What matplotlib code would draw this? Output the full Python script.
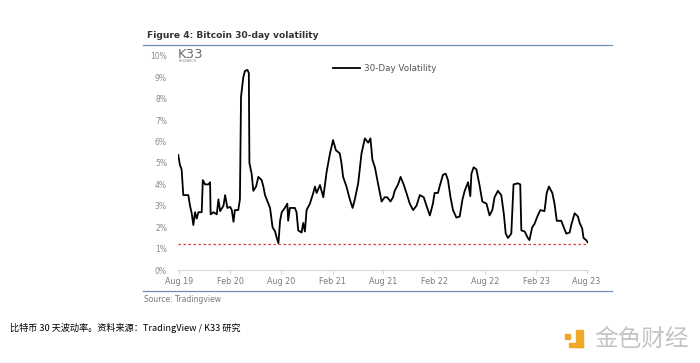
import matplotlib.pyplot as plt
import numpy as np
import pandas as pd
from matplotlib.patches import Rectangle

plt.rcParams['font.family'] = ['DejaVu Sans']

# data (30-day volatility, %)
dates = [
    "2019-07-29", "2019-08-04", "2019-08-10", "2019-08-16", "2019-09-03", "2019-09-09",
    "2019-09-15", "2019-09-21", "2019-09-27", "2019-10-03", "2019-10-09", "2019-10-21",
    "2019-10-25", "2019-11-02", "2019-11-14", "2019-11-20", "2019-11-22", "2019-12-02",
    "2019-12-14", "2019-12-20", "2019-12-26", "2020-01-07", "2020-01-13", "2020-01-21",
    "2020-01-31", "2020-02-06", "2020-02-12", "2020-02-17", "2020-02-29", "2020-03-06",
    "2020-03-10", "2020-03-18", "2020-03-24", "2020-04-02", "2020-04-07", "2020-04-09",
    "2020-04-17", "2020-04-23", "2020-05-03", "2020-05-11", "2020-05-23", "2020-05-29",
    "2020-06-04", "2020-06-10", "2020-06-22", "2020-07-01", "2020-07-10", "2020-07-16",
    "2020-07-22", "2020-07-28", "2020-08-03", "2020-08-14", "2020-08-23", "2020-08-26",
    "2020-09-01", "2020-09-19", "2020-09-25", "2020-10-01", "2020-10-13", "2020-10-19",
    "2020-10-25", "2020-10-31", "2020-11-12", "2020-11-24", "2020-11-30", "2020-12-06",
    "2020-12-18", "2020-12-30", "2021-01-11", "2021-01-23", "2021-02-03", "2021-02-13",
    "2021-02-27", "2021-03-05", "2021-03-11", "2021-03-23", "2021-04-04", "2021-04-14",
    "2021-04-22", "2021-05-04", "2021-05-16", "2021-05-28", "2021-06-09", "2021-06-17",
    "2021-06-24", "2021-07-03", "2021-07-14", "2021-07-27", "2021-08-07", "2021-08-16",
    "2021-08-28", "2021-09-06", "2021-09-12", "2021-09-24", "2021-10-03", "2021-10-14",
    "2021-10-24", "2021-11-05", "2021-11-17", "2021-11-29", "2021-12-11", "2021-12-25",
    "2022-01-04", "2022-01-16", "2022-01-27", "2022-02-02", "2022-02-14", "2022-02-20",
    "2022-03-04", "2022-03-14", "2022-03-22", "2022-03-31", "2022-04-09", "2022-04-21",
    "2022-05-03", "2022-05-13", "2022-05-21", "2022-06-02", "2022-06-10", "2022-06-14",
    "2022-06-22", "2022-07-02", "2022-07-14", "2022-07-23", "2022-08-07", "2022-08-18",
    "2022-08-28", "2022-09-05", "2022-09-17", "2022-09-29", "2022-10-08", "2022-10-15",
    "2022-10-23", "2022-11-04", "2022-11-12", "2022-11-28", "2022-12-06", "2022-12-10",
    "2022-12-22", "2023-01-02", "2023-01-08", "2023-01-18", "2023-01-26", "2023-02-07",
    "2023-02-16", "2023-03-03", "2023-03-11", "2023-03-19", "2023-03-31", "2023-04-08",
    "2023-04-16", "2023-05-02", "2023-05-08", "2023-05-20", "2023-06-01", "2023-06-07",
    "2023-06-19", "2023-07-01", "2023-07-07", "2023-07-16", "2023-07-21", "2023-07-30",
    "2023-08-05",
]
vol = [
    5.37, 4.9, 4.7, 3.5, 3.5, 3.0,
    2.66, 2.1, 2.7, 2.4, 2.7, 2.7,
    4.2, 4.0, 4.0, 4.1, 2.6, 2.7,
    2.6, 3.3, 2.75, 3.0, 3.5, 2.9,
    2.95, 2.8, 2.25, 2.8, 2.8, 3.3,
    8.1, 9.0, 9.3, 9.35, 9.2, 5.0,
    4.5, 3.7, 3.9, 4.35, 4.2, 3.9,
    3.5, 3.3, 2.9, 2.0, 1.8, 1.5,
    1.25, 2.3, 2.7, 2.9, 3.1, 2.3,
    2.9, 2.9, 2.7, 1.85, 1.75, 2.2,
    1.8, 2.8, 3.1, 3.6, 3.9, 3.6,
    3.97, 3.4, 4.6, 5.45, 6.07, 5.6,
    5.45, 5.0, 4.35, 3.9, 3.3, 2.9,
    3.3, 4.05, 5.45, 6.15, 5.95, 6.15,
    5.15, 4.8, 4.05, 3.2, 3.4, 3.4,
    3.2, 3.4, 3.7, 4.0, 4.35, 4.0,
    3.6, 3.1, 2.8, 3.0, 3.5, 3.4,
    3.0, 2.55, 3.1, 3.6, 3.6, 3.9,
    4.45, 4.5, 4.2, 3.4, 2.8, 2.45,
    2.5, 3.3, 3.7, 4.1, 3.45, 4.5,
    4.8, 4.7, 3.9, 3.2, 3.1, 2.55,
    2.8, 3.4, 3.7, 3.5, 2.65, 1.7,
    1.5, 1.7, 4.0, 4.05, 4.0, 1.85,
    1.8, 1.5, 1.4, 2.0, 2.15, 2.55,
    2.8, 2.75, 3.6, 3.9, 3.6, 3.1,
    2.3, 2.3, 2.1, 1.7, 1.75, 2.1,
    2.65, 2.5, 2.2, 1.95, 1.5, 1.4,
    1.3,
]
floor_level = 1.2
tick_dates = ["2019-08-01", "2020-02-01", "2020-08-01", "2021-02-01", "2021-08-01",
              "2022-02-01", "2022-08-01", "2023-02-01", "2023-08-01"]
tick_labels = ["Aug 19", "Feb 20", "Aug 20", "Feb 21", "Aug 21",
               "Feb 22", "Aug 22", "Feb 23", "Aug 23"]

x = pd.to_datetime(dates)
xt = pd.to_datetime(tick_dates)

fig = plt.figure(figsize=(7, 3.63), dpi=100)
ax = fig.add_axes([178 / 700, 1 - 270 / 363, 410 / 700, 214 / 363])

ax.plot(x, vol, color='black', lw=1.3, label='30-Day Volatility')
ax.axhline(floor_level, color='#e03a3a', lw=0.9, ls=(0, (2, 2)))

ax.set_ylim(0, 10)
ax.set_xlim(pd.Timestamp("2019-07-28"), pd.Timestamp("2023-08-06"))
ax.set_yticks(np.arange(0, 11, 1))
ax.set_yticklabels([f"{v}%" for v in range(11)])
ax.set_xticks(xt)
ax.set_xticklabels(tick_labels)
ax.tick_params(axis='y', length=0, labelsize=5.5, labelcolor='#8a8a8a', pad=8)
ax.tick_params(axis='x', length=3, color='#d8d8d8', labelsize=5.8, labelcolor='#7a7a7a', pad=2)
for s in ['top', 'right', 'left']:
    ax.spines[s].set_visible(False)
ax.spines['bottom'].set_color('#d8d8d8')
ax.spines['bottom'].set_linewidth(0.8)

leg = ax.legend(loc='upper left', bbox_to_anchor=(0.36, 1.0), frameon=False,
                fontsize=6.3, handlelength=3.0, handletextpad=0.5)
for t in leg.get_texts():
    t.set_color('#555555')

# title, rules, source
fig.text(147 / 700, 1 - 35 / 363, "Figure 4: Bitcoin 30-day volatility", fontsize=6.6,
         fontweight='bold', color='#333333', va='center', ha='left')
fig.add_artist(plt.Line2D([143 / 700, 612 / 700], [1 - 45 / 363] * 2, color='#6f8fb5', lw=0.9))
fig.add_artist(plt.Line2D([143 / 700, 612 / 700], [1 - 291 / 363] * 2, color='#6f8fb5', lw=0.9))
fig.text(144 / 700, 1 - 300 / 363, "Source: Tradingview", fontsize=5.5, color='#7a7a7a',
         va='center', ha='left')

# K33 logo
fig.text(178 / 700, 1 - 54 / 363, "K33", fontsize=9.5, color='#6a6a6a', va='center', ha='left')
fig.text(179 / 700, 1 - 61.5 / 363, "RESEARCH", fontsize=2.4, color='#8a8a8a', va='center', ha='left')

# caption and watermark
fig.text(10 / 700, 1 - 328 / 363, "比特币 30 天波动率。资料来源：TradingView / K33 研究",
         fontsize=6.6, color='black', va='center', ha='left',
         family=['Noto Sans CJK SC', 'DejaVu Sans'])
fig.text(594 / 700, 1 - 339 / 363, "金色财经", fontsize=17, color='#c4c4c4', va='center',
         ha='left', family=['Noto Sans CJK SC', 'DejaVu Sans'])
orange = '#f0a828'
for (lx, ly, lw_, lh) in [(576, 330, 7, 17), (569, 343, 14, 4), (565, 334, 5, 5)]:
    fig.add_artist(Rectangle((lx / 700, 1 - (ly + lh) / 363), lw_ / 700, lh / 363,
                             color=orange, transform=fig.transFigure))

fig.savefig('out.png', dpi=100, facecolor='white')
